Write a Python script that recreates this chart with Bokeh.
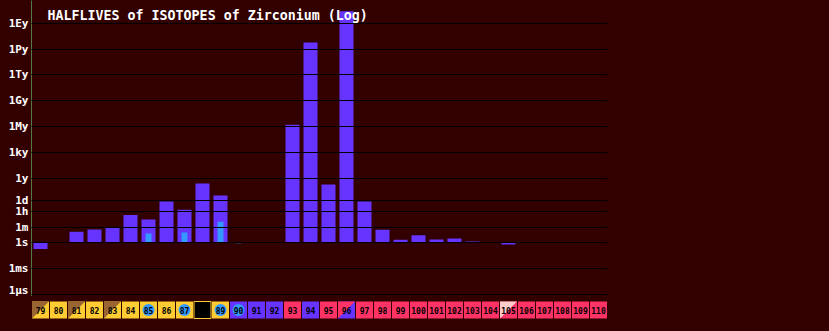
import numpy as np
from bokeh.plotting import figure
from bokeh.layouts import column
from bokeh.models import Range1d, FixedTicker, Label, ColumnDataSource
from bokeh.core.properties import value
from bokeh.embed import file_html
from bokeh.resources import INLINE

# ---- data -------------------------------------------------------------
masses = list(range(79, 111))

# log10 of half-life in seconds for the ground state (None = no bar)
ground_log_s = [
    -0.75, None, 1.25, 1.51, 1.70, 3.20, 2.67, 4.77, 3.80, 6.86,   # 79-88
    5.47, None, None, None, 13.68, 23.26, 6.74, 26.90, 4.78, 1.49,  # 89-98
    0.33, 0.85, 0.36, 0.46, 0.11, -0.04, -0.22, None, None, None,  # 99-108
    None, None,                                                    # 109-110
]

# isomer half-lives, log10 seconds
isomer_mass = [85, 87, 89, 90]
isomer_log_s = [1.04, 1.15, 2.40, -0.09]

tick_labels = ["1\u03bcs", "1ms", "1s", "1m", "1h", "1d", "1y",
               "1ky", "1My", "1Gy", "1Ty", "1Py", "1Ey"]
tick_seconds = [1e-6, 1e-3, 1.0, 60.0, 3600.0, 86400.0, 31557600.0,
                31557600.0e3, 31557600.0e6, 31557600.0e9, 31557600.0e12,
                31557600.0e15, 31557600.0e18]

# tile colours for the element strip (lower-right / main colour)
YEL, BRN, BLU, PUR, PNK, LPK = "#ffcc33", "#996633", "#3399ff", "#6633ff", "#ff3366", "#ffcccc"
tile_main = [YEL, YEL, YEL, YEL, YEL, YEL, YEL, YEL, YEL, "#000000",
             YEL, PUR, PUR, PUR, PNK, PUR, PNK, PUR, PNK, PNK,
             PNK, PNK, PNK, PNK, PNK, PNK, PNK, PNK, PNK, PNK,
             PNK, PNK]
# upper-left triangle colour for split tiles
split_mass = [79, 81, 83, 96, 105]
split_color = [BRN, BRN, BRN, PNK, LPK]
# tiles with a blue dot
dot_mass = [85, 87, 89, 90]
# tiles outlined in yellow
outlined_mass = [88]

BG = "#330000"
FONT = "DejaVu Sans Mono"

# ---- main chart -------------------------------------------------------
p = figure(width=829, height=296,
           x_range=Range1d(78.5, 110.5), y_range=Range1d(-6.28, 28.14),
           x_axis_location=None, output_backend="svg", toolbar_location=None,
           min_border_left=31, min_border_right=222,
           min_border_top=0, min_border_bottom=0,
           background_fill_color=BG, border_fill_color=BG,
           outline_line_color=None)

gx = [m for m, v in zip(masses, ground_log_s) if v is not None]
gy = [v for v in ground_log_s if v is not None]
p.vbar(x=gx, top=gy, bottom=0, width=0.78, fill_color=PUR, line_color=None)
p.vbar(x=isomer_mass, top=isomer_log_s, bottom=0, width=0.33,
       fill_color=BLU, line_color=None)

ticks = [round(float(np.log10(s)), 3) for s in tick_seconds]
p.yaxis.ticker = FixedTicker(ticks=ticks)
p.yaxis.major_label_overrides = {t: lab for t, lab in zip(ticks, tick_labels)}
p.yaxis.major_tick_in = 0
p.yaxis.major_tick_out = 0
p.yaxis.minor_tick_in = 0
p.yaxis.minor_tick_out = 0
p.yaxis.axis_line_color = "#557744"
p.yaxis.major_label_standoff = 3
p.yaxis.major_label_text_color = "white"
p.yaxis.major_label_text_font = FONT
p.yaxis.major_label_text_font_style = "bold"
p.yaxis.major_label_text_font_size = "11px"

p.xgrid.visible = False
p.ygrid.ticker = FixedTicker(ticks=ticks)
p.ygrid.grid_line_color = "black"
p.ygrid.grid_line_width = 1
p.ygrid.level = "overlay"

p.add_layout(Label(x=79.39, y=26.36, text="HALFLIVES of ISOTOPES of Zirconium (Log)",
                   text_color="white", text_font=FONT, text_font_style="bold",
                   text_font_size="13.3px", text_baseline="alphabetic"))

# ---- element strip ----------------------------------------------------
s = figure(width=829, height=35,
           x_range=Range1d(78.5, 110.5), y_range=Range1d(0, 35),
           x_axis_location=None, y_axis_location=None,
           output_backend="svg", toolbar_location=None,
           min_border_left=31, min_border_right=222,
           min_border_top=0, min_border_bottom=0,
           background_fill_color=BG, border_fill_color=BG,
           outline_line_color=None)
s.xgrid.visible = False
s.ygrid.visible = False

half = 0.472
t_top, t_bot = 30, 13
tiles = ColumnDataSource(dict(
    left=[m - half for m in masses], right=[m + half for m in masses],
    fill=tile_main,
    line=[YEL if m in outlined_mass else None for m in masses],
))
s.quad(left="left", right="right", top=t_top, bottom=t_bot,
       fill_color="fill", line_color="line", line_width=1, source=tiles)

s.patches(xs=[[m - half, m + half, m - half] for m in split_mass],
          ys=[[t_top, t_top, t_bot] for _ in split_mass],
          fill_color=split_color, line_color=None)

mid = (t_top + t_bot) / 2
s.scatter(x=dot_mass, y=[mid] * len(dot_mass), size=12,
          fill_color=BLU, line_color=None)

s.text(x=masses, y=[mid] * len(masses), text=[str(m) for m in masses],
       text_align="center", text_baseline="middle", text_color="black",
       text_font=value(FONT), text_font_style="bold", text_font_size="8px")

layout = column(p, s, spacing=0, styles={"background-color": BG})

page_style = ("{% block postamble %}<style>html, body { background-color: "
              + BG + "; margin: 0; }</style>{% endblock %}")
open("out.html", "w").write(file_html(layout, INLINE, template=page_style))
